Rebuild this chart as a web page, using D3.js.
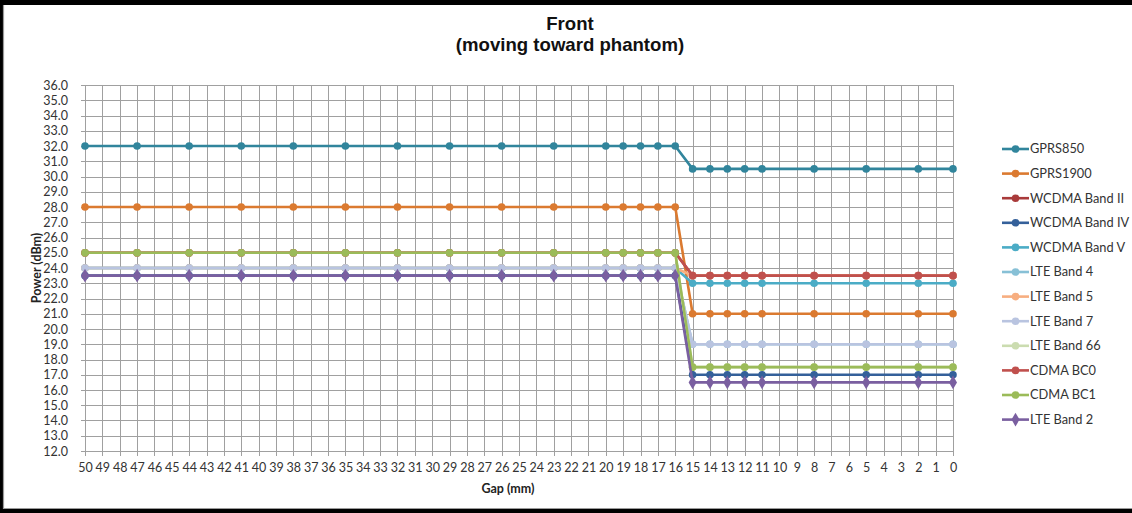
<!DOCTYPE html>
<html><head><meta charset="utf-8">
<script src="https://cdn.jsdelivr.net/npm/d3@7"></script>
<style>html,body{margin:0;padding:0;background:#fff;}svg{display:block;}</style>
</head><body>
<svg id="c" width="1132" height="513"></svg>
<script>
// ---- data ----
const categories = d3.range(50, -1, -1).map(String); // 50..0
const gaps = [50,47,44,41,38,35,32,29,26,23,20,19,18,17,16,15,14,13,12,11,8,5,2,0];
const seriesNames = ["GPRS850","GPRS1900","WCDMA Band II","WCDMA Band IV","WCDMA Band V","LTE Band 4","LTE Band 5","LTE Band 7","LTE Band 66","CDMA BC0","CDMA BC1","LTE Band 2"];
// 15 points at gaps 50..16, then 9 points at gaps 15..0
const GPRS850      = [32,32,32,32,32,32,32,32,32,32,32,32,32,32,32, 30.5,30.5,30.5,30.5,30.5,30.5,30.5,30.5,30.5];
const GPRS1900     = [28,28,28,28,28,28,28,28,28,28,28,28,28,28,28, 21,21,21,21,21,21,21,21,21];
const WCDMA_II     = [25,25,25,25,25,25,25,25,25,25,25,25,25,25,25, 23.5,23.5,23.5,23.5,23.5,23.5,23.5,23.5,23.5];
const WCDMA_IV     = [23.5,23.5,23.5,23.5,23.5,23.5,23.5,23.5,23.5,23.5,23.5,23.5,23.5,23.5,23.5, 17,17,17,17,17,17,17,17,17];
const WCDMA_V      = [24,24,24,24,24,24,24,24,24,24,24,24,24,24,24, 23,23,23,23,23,23,23,23,23];
const LTE4         = [24,24,24,24,24,24,24,24,24,24,24,24,24,24,24, 19,19,19,19,19,19,19,19,19];
const LTE5         = [24,24,24,24,24,24,24,24,24,24,24,24,24,24,24, 23.5,23.5,23.5,23.5,23.5,23.5,23.5,23.5,23.5];
const LTE7         = [24,24,24,24,24,24,24,24,24,24,24,24,24,24,24, 19,19,19,19,19,19,19,19,19];
const LTE66        = [25,25,25,25,25,25,25,25,25,25,25,25,25,25,25, 17.5,17.5,17.5,17.5,17.5,17.5,17.5,17.5,17.5];
const CDMA_BC0     = [25,25,25,25,25,25,25,25,25,25,25,25,25,25,25, 23.5,23.5,23.5,23.5,23.5,23.5,23.5,23.5,23.5];
const CDMA_BC1     = [25,25,25,25,25,25,25,25,25,25,25,25,25,25,25, 17.5,17.5,17.5,17.5,17.5,17.5,17.5,17.5,17.5];
const LTE2         = [23.5,23.5,23.5,23.5,23.5,23.5,23.5,23.5,23.5,23.5,23.5,23.5,23.5,23.5,23.5, 16.5,16.5,16.5,16.5,16.5,16.5,16.5,16.5,16.5];
const seriesValues = [GPRS850,GPRS1900,WCDMA_II,WCDMA_IV,WCDMA_V,LTE4,LTE5,LTE7,LTE66,CDMA_BC0,CDMA_BC1,LTE2];
const yTicks = d3.range(12, 36.01, 1);
const titleLines = ["Front","(moving toward phantom)"];

// ---- styles ----
const colors = ["#31859C","#DB7A30","#A93A3A","#34609A","#4BACC6","#87C0D6","#F7AE80","#B9C4E0","#CBDCB0","#C0504D","#9BBB59","#7A5FA0"];
const shapes = ["c","c","c","c","c","c","c","c","c","c","c","d"];
const FONT = "Lato, 'Open Sans', sans-serif";

const svg = d3.select("#c");
// frame
svg.append("rect").attr("x",0).attr("y",0).attr("width",1132).attr("height",513).attr("fill","#000");
svg.append("rect").attr("x",3).attr("y",5).attr("width",1129).attr("height",504).attr("fill","#fff");
svg.append("path").attr("d","M3.5,5 V508.5 H1132").attr("fill","none").attr("stroke","#9a9a9a").attr("stroke-width",1.2);

const L=85, R=953, T=85, B=451;
const x = d3.scalePoint().domain(categories).range([L,R]);
const y = d3.scaleLinear().domain([12,36]).range([B,T]);

const g = svg.append("g");
// gridlines
g.selectAll(".hg").data(yTicks).join("line")
  .attr("x1",L-4).attr("x2",R).attr("y1",d=>Math.round(y(d))+0.5).attr("y2",d=>Math.round(y(d))+0.5)
  .attr("stroke","#a0a0a0").attr("stroke-width",1);
g.selectAll(".vg").data(categories).join("line")
  .attr("x1",d=>Math.round(x(d))+0.5).attr("x2",d=>Math.round(x(d))+0.5).attr("y1",T).attr("y2",B+5)
  .attr("stroke","#a0a0a0").attr("stroke-width",1);

// y axis labels
const yAxis = d3.axisLeft(y).tickValues(yTicks).tickFormat(d3.format(".1f")).tickSize(0).tickPadding(0);
const ya = svg.append("g").attr("transform",`translate(${L-17},0)`).call(yAxis);
ya.select(".domain").remove();
ya.selectAll("text").attr("font-family",FONT).attr("font-size",12.5).attr("fill","#333");

// x axis labels
const xAxis = d3.axisBottom(x).tickSize(0).tickPadding(0);
const xa = svg.append("g").attr("transform",`translate(0,${B+12})`).call(xAxis);
xa.select(".domain").remove();
xa.selectAll("text").attr("font-family",FONT).attr("font-size",12.5).attr("fill","#333");

// titles
svg.append("text").attr("x",570).attr("y",30).attr("text-anchor","middle")
  .attr("font-family","'Liberation Sans', Arial, sans-serif").attr("font-weight","bold").attr("font-size",18.6).attr("fill","#111").text(titleLines[0]);
svg.append("text").attr("x",570).attr("y",51).attr("text-anchor","middle")
  .attr("font-family","'Liberation Sans', Arial, sans-serif").attr("font-weight","bold").attr("font-size",18.6).attr("fill","#111").text(titleLines[1]);
svg.append("text").attr("transform",`translate(41,${(T+B)/2}) rotate(-90)`).attr("text-anchor","middle")
  .attr("font-family",FONT).attr("font-weight","bold").attr("font-size",12.5).attr("fill","#222").text("Power (dBm)");
svg.append("text").attr("x",508).attr("y",493).attr("text-anchor","middle")
  .attr("font-family",FONT).attr("font-weight","bold").attr("font-size",12.5).attr("fill","#222").text("Gap (mm)");

// series
const line = d3.line().x(d=>x(String(d.g))).y(d=>y(d.v));
function marker(sel, shape, color){
  if(shape==="d"){
    sel.append("path").attr("d",d3.symbol().type(d3.symbolDiamond).size(55)).attr("fill",color);
  } else {
    sel.append("circle").attr("r",3.8).attr("fill",color);
  }
}
seriesValues.forEach((vals,i)=>{
  const pts = gaps.map((gp,j)=>({g:gp,v:vals[j]}));
  const sg = svg.append("g");
  sg.append("path").datum(pts).attr("d",line).attr("fill","none").attr("stroke",colors[i]).attr("stroke-width",2.6).attr("stroke-linejoin","round");
  pts.forEach(p=>{
    const m = sg.append("g").attr("transform",`translate(${x(String(p.g))},${y(p.v)})`);
    marker(m, shapes[i], colors[i]);
  });
});

// legend
const lg = svg.append("g");
seriesNames.forEach((n,i)=>{
  const yy = 149 + i*24.6;
  lg.append("line").attr("x1",1002).attr("x2",1029).attr("y1",yy).attr("y2",yy).attr("stroke",colors[i]).attr("stroke-width",2.6);
  const m = lg.append("g").attr("transform",`translate(1015.5,${yy})`);
  marker(m, shapes[i], colors[i]);
  lg.append("text").attr("x",1030).attr("y",yy).attr("dy","0.35em")
    .attr("font-family",FONT).attr("font-size",12.8).attr("fill","#333").text(n);
});
</script>
</body></html>
